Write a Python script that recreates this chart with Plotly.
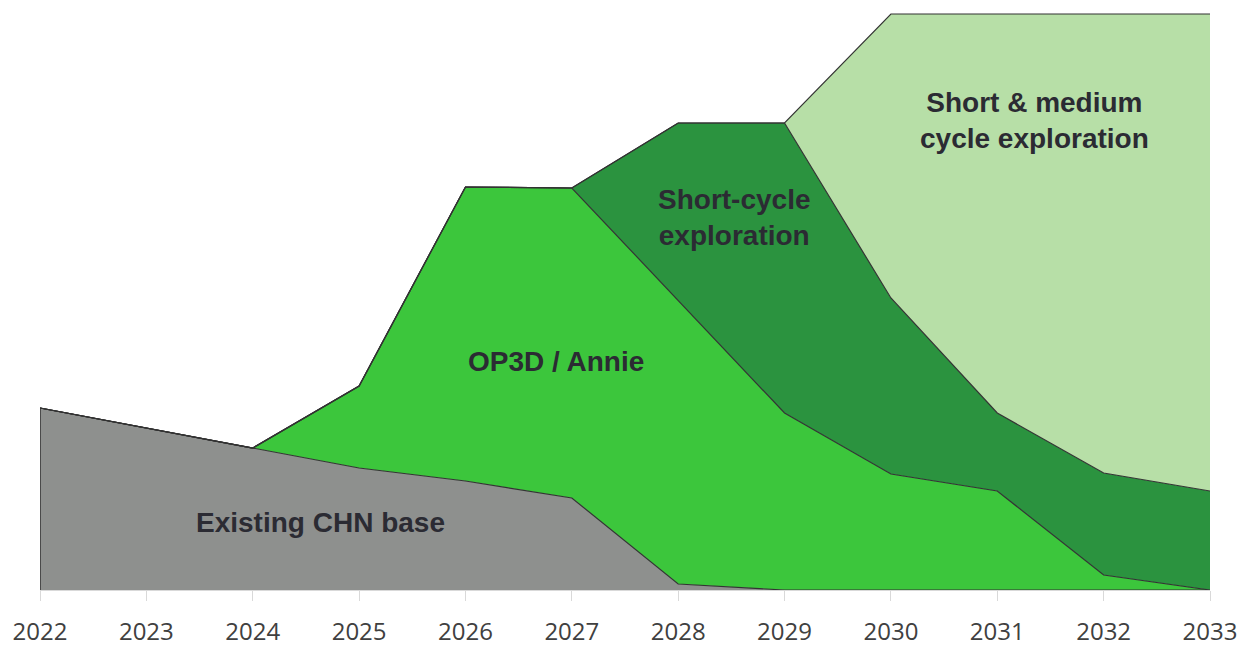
import plotly.graph_objects as go

years = [2022, 2023, 2024, 2025, 2026, 2027, 2028, 2029, 2030, 2031, 2032, 2033]
tick_labels = [str(y) for y in years]

existing_chn_base = [182, 162, 142, 122, 109, 92, 6, 0, 0, 0, 0, 0]
op3d_annie = [0, 0, 0, 82, 294, 310, 284, 177, 116, 99, 15, 0]
short_cycle = [0, 0, 0, 0, 0, 0, 177, 290, 176, 78, 102, 99]
short_medium = [0, 0, 0, 0, 0, 0, 0, 0, 284, 399, 459, 477]

series_names = ["Existing CHN base", "OP3D / Annie", "Short-cycle exploration",
                "Short & medium cycle exploration"]
series_values = [existing_chn_base, op3d_annie, short_cycle, short_medium]
colors = ["#8e908e", "#3cc63c", "#2b933f", "#b7dfa7"]

label_texts = ["Existing CHN base", "OP3D / Annie", "Short-cycle<br>exploration",
               "Short & medium<br>cycle exploration"]
label_x = [2024.64, 2026.85, 2028.53, 2031.35]
label_y = [68, 229, 373, 470]

line_col = "#333333"

fig = go.Figure()
for name, vals, col in zip(series_names, series_values, colors):
    fig.add_trace(go.Scatter(
        x=years, y=vals, name=name, mode="lines", stackgroup="one",
        line=dict(color=line_col, width=1.2), fillcolor=col,
        hoverinfo="skip",
    ))

# left edge of the first area
fig.add_trace(go.Scatter(x=[years[0], years[0]], y=[0, existing_chn_base[0]],
                         mode="lines", line=dict(color=line_col, width=1.5),
                         hoverinfo="skip", showlegend=False))

for t, x, y in zip(label_texts, label_x, label_y):
    fig.add_annotation(x=x, y=y, text="<b>" + t + "</b>", showarrow=False,
                       font=dict(family="Liberation Sans, Arial, sans-serif",
                                 size=28, color="#2b2b33"),
                       align="center")

total_max = max(a + b + c + d for a, b, c, d in
                zip(existing_chn_base, op3d_annie, short_cycle, short_medium))

fig.update_layout(
    width=1243, height=646,
    margin=dict(l=40, r=33, t=12, b=56, autoexpand=False),
    paper_bgcolor="white", plot_bgcolor="white",
    showlegend=False,
    xaxis=dict(
        range=[years[0], years[-1]], tickmode="array", tickvals=years,
        ticktext=tick_labels, showgrid=False, zeroline=False, automargin=False,
        showline=True, linecolor="#d9d9d9", linewidth=1, layer="above traces",
        ticks="outside", ticklen=10, tickcolor="#d9d9d9", tickwidth=1,
        ticklabelstandoff=10,
        tickfont=dict(family="Open Sans, sans-serif", size=24, color="#404040"),
    ),
    yaxis=dict(range=[0, total_max + 2], visible=False, showgrid=False,
               zeroline=False, automargin=False),
)

fig.write_html(
    "out.html",
    config={"displayModeBar": False},
    post_script="document.body.style.margin='0';document.body.style.overflow='hidden';",
)
